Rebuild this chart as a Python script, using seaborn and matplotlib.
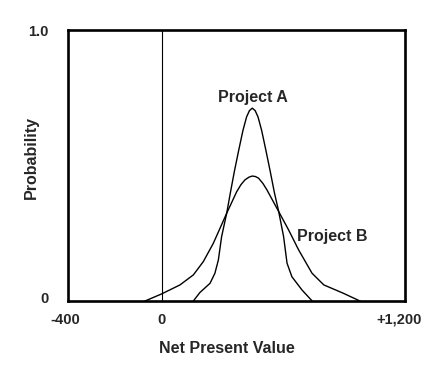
import numpy as np
import pandas as pd
import matplotlib
matplotlib.use("Agg")
import matplotlib.pyplot as plt
import matplotlib.transforms as mtransforms
import seaborn as sns

# Values (net present value vs probability)
npv_a = [154, 188, 238, 262, 279, 295, 320, 338, 358, 380, 400, 418, 432,
         446, 460, 474, 492, 512, 534, 555, 576, 600, 617, 641, 691, 743]
prob_a = [0.0, 0.033, 0.067, 0.104, 0.153, 0.239, 0.325, 0.40, 0.48, 0.56,
          0.63, 0.68, 0.703, 0.712, 0.703, 0.68, 0.63, 0.56, 0.48, 0.40,
          0.331, 0.239, 0.141, 0.091, 0.042, 0.0]

npv_b = [-76, 0, 90, 156, 205, 254, 320, 369, 390, 410, 430, 446, 462, 477,
         498, 518, 576, 625, 674, 740, 798, 892, 981]
prob_b = [0.0, 0.028, 0.061, 0.098, 0.147, 0.214, 0.325, 0.404, 0.43, 0.448,
          0.458, 0.462, 0.46, 0.454, 0.435, 0.411, 0.331, 0.263, 0.190, 0.104,
          0.061, 0.031, 0.0]

x_ticks = [-400, 0, 1200]
x_tick_labels = ["-400", "0", "+1,200"]
y_ticks = [0, 1.0]
y_tick_labels = ["0", "1.0"]

df = pd.concat([
    pd.DataFrame({"npv": npv_a, "prob": prob_a, "project": "Project A"}),
    pd.DataFrame({"npv": npv_b, "prob": prob_b, "project": "Project B"}),
])

sns.set_style("white")
plt.rcParams["font.family"] = ["Liberation Sans", "DejaVu Sans"]
plt.rcParams["font.weight"] = "bold"


# schematic axis: left of zero is drawn a bit wider than right of zero
def fwd(x):
    x = np.asarray(x, dtype=float)
    return np.where(x < 0, x * 93.7 / 400, x * 243.8 / 1200)


def inv(y):
    y = np.asarray(y, dtype=float)
    return np.where(y < 0, y * 400 / 93.7, y * 1200 / 243.8)


fig = plt.figure(figsize=(4.42, 3.65), dpi=100)
ax = fig.add_axes([0.1538, 0.174, 0.7636, 0.744])
ax.set_xscale("function", functions=(fwd, inv))

sns.lineplot(data=df, x="npv", y="prob", units="project", estimator=None,
             sort=False, color="black", linewidth=1.0, ax=ax, legend=False)

ax.axvline(0, color="black", linewidth=0.8)

ax.set_xlim(-400, 1200)
ax.set_ylim(0, 1.0)
ax.set_xticks(x_ticks)
ax.set_xticklabels(x_tick_labels)
ax.set_yticks(y_ticks)
ax.set_yticklabels(y_tick_labels)
ax.tick_params(axis="x", length=0, pad=8, labelsize=10.5)
ax.tick_params(axis="y", length=0, pad=14, labelsize=10.5)

# nudge the end labels a little, as in the original
def nudge(label, dx, dy):
    off = mtransforms.ScaledTranslation(dx / 100, dy / 100, fig.dpi_scale_trans)
    label.set_transform(label.get_transform() + off)

xl = ax.get_xticklabels()
nudge(xl[0], -3, 0)
nudge(xl[2], -6, 0)
yl = ax.get_yticklabels()
nudge(yl[0], 0, 4)
nudge(yl[1], 0, -1)

for s in ax.spines.values():
    s.set_visible(True)
    s.set_color("black")
    s.set_linewidth(1.9)

ax.set_xlabel("Net Present Value", fontsize=11.5, fontweight="bold")
ax.set_ylabel("Probability", fontsize=11.5, fontweight="bold")
ax.xaxis.set_label_coords(0.47, -0.145)
ax.yaxis.set_label_coords(-0.087, 0.53)

ax.text(449, 0.751, "Project A", ha="center", va="center",
        fontsize=11.5, fontweight="bold")
ax.text(838, 0.238, "Project B", ha="center", va="center",
        fontsize=11.5, fontweight="bold")

fig.savefig("out.png", dpi=100)
